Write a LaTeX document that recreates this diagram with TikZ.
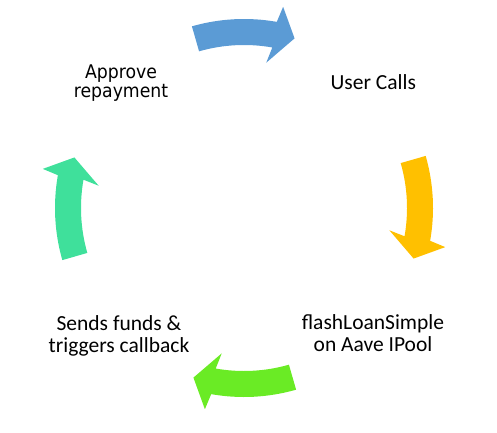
\documentclass[tikz,border=0pt]{standalone}
\usepackage{fontspec}
\setmainfont{Carlito}
\newfontfamily\approvefamily[FakeStretch=0.92]{DejaVu Sans}
\newcommand\approvefont{\approvefamily\fontsize{18.8}{19.5}\selectfont}
\usetikzlibrary{positioning}
\definecolor{ArrowBlue}{HTML}{5B9BD5}
\definecolor{ArrowGold}{HTML}{FFC000}
\definecolor{ArrowLime}{HTML}{6AEB25}
\definecolor{ArrowMint}{HTML}{3FE09B}

\begin{document}
\begin{tikzpicture}[x=1pt,y=1pt,
        cyclbl/.style={align=center,inner sep=0pt,font=\fontsize{21.5}{22}\selectfont},
        applbl/.style={align=center,inner sep=0pt,font=\approvefont}]
        \useasboundingbox (0,0) rectangle (497,432);
        \coordinate (ctr) at (244,224);
        % four curved arrows, one per quarter, clockwise
        \foreach \rot/\col in {0/ArrowBlue,-90/ArrowGold,180/ArrowLime,90/ArrowMint}{
          \begin{scope}[shift={(ctr)},rotate=\rot]
            \fill[\col] (106:189) arc[start angle=106,end angle=80,radius=189]
              -- (79:205) -- (73.4:177) -- (81.3:147) -- (80:163)
              arc[start angle=80,end angle=106,radius=163] -- cycle;
          \end{scope}
        }
        \node[applbl] (approve) at (121,349) {Approve\\repayment};
        \node[cyclbl] (user) at (373.3,349.8) {User Calls};
        \node[cyclbl] (flash) at (373,98.7) {flashLoanSimple\\on Aave IPool};
        \node[cyclbl] (sends) at (119,96) {Sends funds \&\\triggers callback};
      \end{tikzpicture}
\end{document}
